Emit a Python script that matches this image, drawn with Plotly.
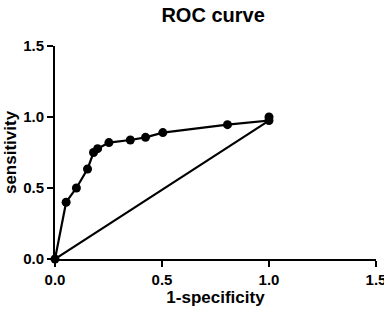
import plotly.graph_objects as go

fpr = [0.0, 0.052, 0.10, 0.152, 0.18, 0.199, 0.252, 0.352, 0.423, 0.504, 0.806, 1.0, 1.0]
tpr = [0.0, 0.40, 0.50, 0.634, 0.75, 0.777, 0.82, 0.838, 0.857, 0.89, 0.946, 0.975, 1.0]
diag_x = [0.0, 1.0]
diag_y = [0.0, 0.975]
ticks = [0.0, 0.5, 1.0, 1.5]
tick_text = ["0.0", "0.5", "1.0", "1.5"]

font = "Liberation Sans"

fig = go.Figure()
fig.add_trace(go.Scatter(x=diag_x, y=diag_y, mode="lines",
                         line=dict(color="black", width=2.2), cliponaxis=False,
                         showlegend=False))
fig.add_trace(go.Scatter(x=fpr, y=tpr, mode="lines+markers",
                         line=dict(color="black", width=2.2),
                         marker=dict(color="black", size=9), cliponaxis=False,
                         showlegend=False))

fig.update_layout(
    width=384, height=314,
    margin=dict(l=55, r=8, t=46, b=55),
    paper_bgcolor="white", plot_bgcolor="white",
    title=dict(text="ROC curve", x=0.555, xanchor="center", y=0.952, yanchor="middle",
               font=dict(family=font, size=20, color="black", weight="bold")),
    font=dict(family=font, color="black"),
)
axis_common = dict(range=[0, 1.5], tickvals=ticks, ticktext=tick_text,
                   showline=True, linecolor="black", linewidth=2, ticks="outside",
                   ticklen=6, tickwidth=2, tickcolor="black", showgrid=False, zeroline=False,
                   ticklabeloverflow="allow", automargin=False,
                   tickfont=dict(size=15, family=font, color="black", weight="bold"))
fig.update_xaxes(**axis_common,
                 title=dict(text="1-specificity", font=dict(size=17, family=font, color="black", weight="bold"), standoff=4))
fig.update_yaxes(**axis_common,
                 title=dict(text="sensitivity", font=dict(size=17, family=font, color="black", weight="bold"), standoff=2))

fig.write_html("out.html")
